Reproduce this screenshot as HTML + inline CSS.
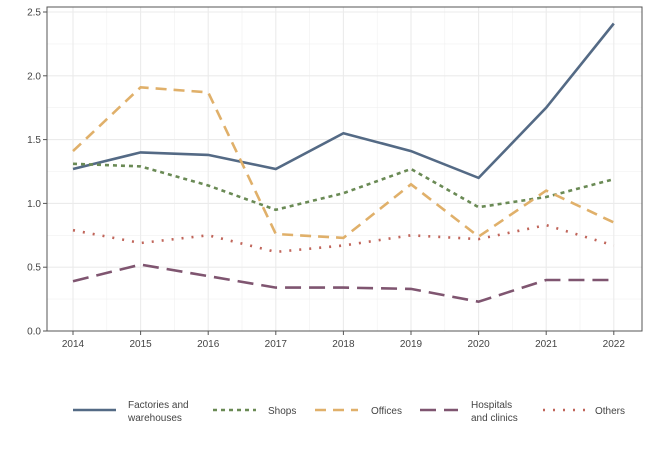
<!DOCTYPE html>
<html><head><meta charset="utf-8"><style>
body{margin:0;background:#fff;}
svg text{font-family:"Liberation Sans",sans-serif;font-size:10px;fill:#444;}
</style></head><body>
<svg width="650" height="450" xmlns="http://www.w3.org/2000/svg">
<g stroke="#f0f0f0" stroke-width="0.6">
<line x1="47" x2="642" y1="299.1" y2="299.1"/><line x1="47" x2="642" y1="235.3" y2="235.3"/><line x1="47" x2="642" y1="171.5" y2="171.5"/><line x1="47" x2="642" y1="107.7" y2="107.7"/><line x1="47" x2="642" y1="43.9" y2="43.9"/>
<line x1="106.8" x2="106.8" y1="7" y2="331"/><line x1="174.4" x2="174.4" y1="7" y2="331"/><line x1="242" x2="242" y1="7" y2="331"/><line x1="309.6" x2="309.6" y1="7" y2="331"/><line x1="377.2" x2="377.2" y1="7" y2="331"/><line x1="444.8" x2="444.8" y1="7" y2="331"/><line x1="512.4" x2="512.4" y1="7" y2="331"/><line x1="580" x2="580" y1="7" y2="331"/>
</g>
<g stroke="#ebebeb" stroke-width="1.1">
<line x1="47" x2="642" y1="331" y2="331"/><line x1="47" x2="642" y1="267.2" y2="267.2"/><line x1="47" x2="642" y1="203.4" y2="203.4"/><line x1="47" x2="642" y1="139.6" y2="139.6"/><line x1="47" x2="642" y1="75.8" y2="75.8"/><line x1="47" x2="642" y1="12" y2="12"/>
<line x1="73" x2="73" y1="7" y2="331"/><line x1="140.6" x2="140.6" y1="7" y2="331"/><line x1="208.2" x2="208.2" y1="7" y2="331"/><line x1="275.8" x2="275.8" y1="7" y2="331"/><line x1="343.4" x2="343.4" y1="7" y2="331"/><line x1="411" x2="411" y1="7" y2="331"/><line x1="478.6" x2="478.6" y1="7" y2="331"/><line x1="546.2" x2="546.2" y1="7" y2="331"/><line x1="613.8" x2="613.8" y1="7" y2="331"/>
</g>
<rect x="47" y="7" width="595" height="324" fill="none" stroke="#555" stroke-width="1"/>
<g stroke="#555" stroke-width="1">
<line x1="43" x2="47" y1="331" y2="331"/><line x1="43" x2="47" y1="267.2" y2="267.2"/><line x1="43" x2="47" y1="203.4" y2="203.4"/><line x1="43" x2="47" y1="139.6" y2="139.6"/><line x1="43" x2="47" y1="75.8" y2="75.8"/><line x1="43" x2="47" y1="12" y2="12"/>
<line x1="73" x2="73" y1="331" y2="335"/><line x1="140.6" x2="140.6" y1="331" y2="335"/><line x1="208.2" x2="208.2" y1="331" y2="335"/><line x1="275.8" x2="275.8" y1="331" y2="335"/><line x1="343.4" x2="343.4" y1="331" y2="335"/><line x1="411" x2="411" y1="331" y2="335"/><line x1="478.6" x2="478.6" y1="331" y2="335"/><line x1="546.2" x2="546.2" y1="331" y2="335"/><line x1="613.8" x2="613.8" y1="331" y2="335"/>
</g>
<g text-anchor="end">
<text x="41" y="334.5">0.0</text><text x="41" y="270.7">0.5</text><text x="41" y="206.9">1.0</text><text x="41" y="143.1">1.5</text><text x="41" y="79.3">2.0</text><text x="41" y="15.5">2.5</text>
</g>
<g text-anchor="middle">
<text x="73" y="347">2014</text><text x="140.6" y="347">2015</text><text x="208.2" y="347">2016</text><text x="275.8" y="347">2017</text><text x="343.4" y="347">2018</text><text x="411" y="347">2019</text><text x="478.6" y="347">2020</text><text x="546.2" y="347">2021</text><text x="613.8" y="347">2022</text>
</g>
<g fill="none" stroke-width="2.6">
<polyline stroke="#546a85" points="73,169 140.6,152.4 208.2,154.9 275.8,169 343.4,133.2 411,151.1 478.6,177.9 546.2,107.7 613.8,23.5"/>
<polyline stroke="#6a8a55" stroke-dasharray="4,4" points="73,163.8 140.6,166.4 208.2,185.5 275.8,209.8 343.4,193.2 411,169 478.6,207.2 546.2,197 613.8,179.2"/>
<polyline stroke="#e0b06a" stroke-dasharray="11,7" points="73,151.1 140.6,87.3 208.2,92.4 275.8,234 343.4,237.9 411,184.3 478.6,236.6 546.2,190.6 613.8,222.5"/>
<polyline stroke="#7f5570" stroke-dasharray="16,8" points="73,281.2 140.6,264.6 208.2,276.1 275.8,287.6 343.4,287.6 411,288.9 478.6,301.7 546.2,280 613.8,280"/>
<polyline stroke="#c0655a" stroke-dasharray="2,8" points="73,230.2 140.6,243 208.2,235.3 275.8,251.9 343.4,245.5 411,235.3 478.6,239.1 546.2,225.1 613.8,245.5"/>
</g>
<g fill="none" stroke-width="2.6">
<line stroke="#546a85" x1="73" x2="116" y1="410" y2="410"/>
<line stroke="#6a8a55" stroke-dasharray="4,4" x1="213" x2="256" y1="410" y2="410"/>
<line stroke="#e0b06a" stroke-dasharray="11,7" x1="315" x2="358" y1="410" y2="410"/>
<line stroke="#7f5570" stroke-dasharray="16,8" x1="420" x2="458" y1="410" y2="410"/>
<line stroke="#c0655a" stroke-dasharray="2,8" x1="543" x2="586" y1="410" y2="410"/>
</g>
<text x="128" y="408">Factories and</text><text x="128" y="421">warehouses</text>
<text x="268" y="414">Shops</text>
<text x="371" y="414">Offices</text>
<text x="471" y="408">Hospitals</text><text x="471" y="421">and clinics</text>
<text x="595" y="414">Others</text>
</svg>
</body></html>
